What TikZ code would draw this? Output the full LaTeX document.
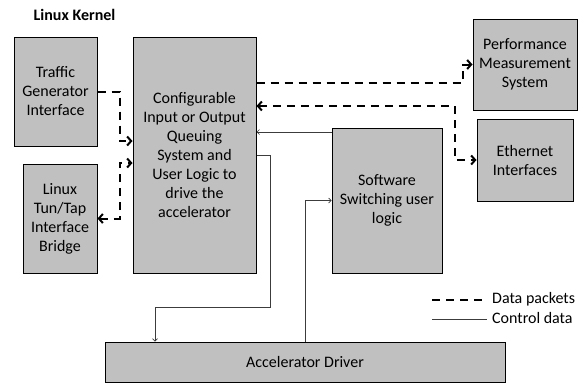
\documentclass[tikz,border=0pt]{standalone}
\usepackage{fontspec}
\setmainfont{Carlito}
\usetikzlibrary{arrows.meta,positioning}
\definecolor{boxgray}{RGB}{192,192,192}
\definecolor{ctrlgray}{RGB}{60,60,60}
\tikzset{
         blk/.style={draw=black,line width=1pt,fill=boxgray,inner sep=0pt,align=center,
                     font=\fontsize{16}{19}\selectfont},
         data/.style={line width=2pt,dash pattern=on 8pt off 6pt,
                      arrows={-Straight Barb[length=4pt,width=9pt]}},
         ctrl/.style={line width=.7pt,draw=ctrlgray,
                      arrows={-Straight Barb[length=2.5pt,width=5pt]}}
        }

\begin{document}
\begin{tikzpicture}[x=1pt,y=-1pt]
\useasboundingbox(0,0)rectangle(588,383);
%title
\node[font=\fontsize{16}{18}\selectfont\bfseries](title)at(74.5,15){Linux Kernel};
%boxes
\node[blk,minimum width=83,minimum height=109](tgi)at(55.5,91.5){Traffic\\Generator\\Interface};
\node[blk,minimum width=74,minimum height=109](tun)at(60,218.5){Linux\\Tun/Tap\\Interface\\Bridge};
\node[blk,minimum width=123,minimum height=236](cfg)at(194.5,155){Configurable\\Input or Output\\Queuing\\System and\\User Logic to\\drive the\\accelerator};
\node[blk,minimum width=104,minimum height=91](perf)at(525,64.5){Performance\\Measurement\\System};
\node[blk,minimum width=96,minimum height=82](eth)at(525,160){Ethernet\\Interfaces};
\node[blk,minimum width=110,minimum height=145](sw)at(387,200.5){Software\\Switching user\\logic};
\node[blk,minimum width=400,minimum height=40](acc)at(305,362){Accelerator Driver};
%data packets
\draw[data](tgi.east)--++(22,0)|-([yshift=14pt]cfg.west);
\draw[data,arrows={Straight Barb[length=4pt,width=9pt]-Straight Barb[length=4pt,width=9pt]}](tun.east)--++(22,0)|-([yshift=-8pt]cfg.west);
\draw[data]([yshift=72pt]cfg.east)--++(206,0)|-(perf.west);
\draw[data,arrows={Straight Barb[length=4pt,width=9pt]-Straight Barb[length=4pt,width=9pt]}]([yshift=49pt]cfg.east)--++(198,0)|-(eth.west);
%control data
\draw[ctrl]([yshift=68.5pt]sw.west)--([yshift=68.5pt]sw.west-|cfg.east);
\draw[ctrl](cfg.east)--++(14,0)--++(0,152)-|([xshift=-150pt]acc.north);
\draw[ctrl](acc.north)|-(sw.west);
%legend
\coordinate(d1)at(432,300);
\coordinate(d2)at(487,300);
\coordinate(c1)at(432,319);
\coordinate(c2)at(487,319);
\draw[line width=2pt,dash pattern=on 8pt off 6pt](d1)--(d2);
\draw[line width=.7pt,draw=ctrlgray](c1)--(c2);
\node[font=\fontsize{16}{19}\selectfont,anchor=west,inner sep=0pt](dlab)at(492,299){Data packets};
\node[font=\fontsize{16}{19}\selectfont,anchor=west,inner sep=0pt](clab)at(492,318){Control data};
\end{tikzpicture}
\end{document}
